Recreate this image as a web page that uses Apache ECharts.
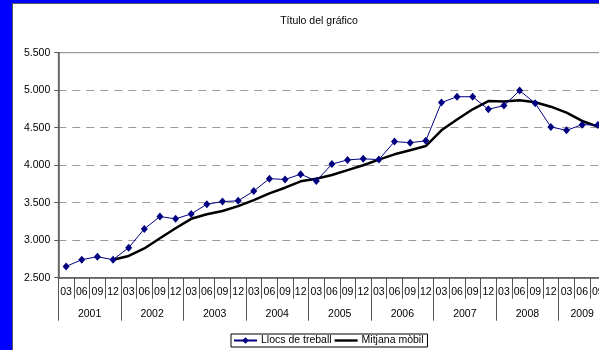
<!DOCTYPE html>
<html>
<head>
<meta charset="utf-8">
<script src="https://cdn.jsdelivr.net/npm/echarts@6/dist/echarts.min.js"></script>
<style>
html,body{margin:0;padding:0;width:599px;height:350px;overflow:hidden;background:#0000ff;}
#frame{position:absolute;left:12px;top:3px;width:700px;height:400px;background:#fff;border-left:1px solid #555;border-top:1px solid #555;}
#chart{position:absolute;left:0;top:0;width:640px;height:350px;}
</style>
</head>
<body>
<div id="frame"></div>
<div id="chart"></div>
<script>
const years = ['2001','2002','2003','2004','2005','2006','2007','2008','2009'];
const quarters = ['03','06','09','12'];
const quartersLastYear = 3; // 2009 only has 03, 06, 09
const llocsTreball = [2650,2740,2780,2740, 2900,3150,3315,3285, 3350,3480,3515,3525, 3655,3820,3810,3880,
  3790,4015,4070,4085, 4075,4315,4300,4325, 4835,4913,4913,4745, 4795,4995,4825,4510, 4465,4540,4535];
const mitjanaMobil = [null,null,null,2740, 2790,2890,3025,3160, 3285,3345,3390,3455, 3535,3625,3700,3785,
  3820,3870,3935,4000, 4075,4145,4200,4255, 4465,4610,4745,4855, 4850,4865,4840,4780, 4700,4590,4515];
const yTicks = {min:2500, max:5500, interval:500};

// quarter categories
const cats = [];
years.forEach((y, i) => {
  const n = (i === years.length - 1) ? quartersLastYear : quarters.length;
  for (let q = 0; q < n; q++) cats.push(quarters[q]);
});
// year axis: half-quarter positions (boundaryGap false)
const nQ = cats.length;
const yearPos = [];
for (let k = 0; k <= nQ * 2; k++) yearPos.push('');
const yearLabelIdx = {};
const yearTickIdx = {};
let start = 0;
years.forEach((y, i) => {
  const n = (i === years.length - 1) ? quartersLastYear : quarters.length;
  yearTickIdx[start * 2] = true;
  const mid = start * 2 + n; // center in half units
  yearPos[mid] = y;
  yearLabelIdx[mid] = true;
  start += n;
});
yearTickIdx[nQ * 2] = true;

const fontFam = '"Liberation Sans", Arial, sans-serif';
const chart = echarts.init(document.getElementById('chart'));
chart.setOption({
  animation: false,
  textStyle: {fontFamily: fontFam},
  title: {
    text: 'Título del gráfico',
    left: 314, top: 11, textAlign: 'center',
    textStyle: {fontSize: 10.5, fontWeight: 'normal', color: '#000', fontFamily: fontFam}
  },
  legend: {
    left: 231, top: 334,
    padding: [1, 4, 1, 2],
    itemGap: 3,
    itemWidth: 23, itemHeight: 8,
    borderColor: '#000', borderWidth: 1,
    backgroundColor: '#fff',
    textStyle: {fontSize: 10.5, color: '#000', fontFamily: fontFam, padding: [0,0,0,-1]},
    data: [
      {name: 'Llocs de treball'},
      {name: 'Mitjana mòbil', icon: 'path://M0,0L0,0M0,8L0,8M23,0L23,0M23,8L23,8M0,2.8L23,2.8L23,5.2L0,5.2Z'}
    ]
  },
  grid: {
    left: 58.3, top: 52.7, right: 34.4, bottom: 72.3,
    show: true, borderColor: '#808080', borderWidth: 1, backgroundColor: 'transparent'
  },
  xAxis: [{
    type: 'category', position: 'bottom', data: cats, boundaryGap: true,
    axisLine: {show: true, lineStyle: {color: '#555', width: 1.5}},
    axisTick: {show: true, interval: 0, length: 21, lineStyle: {color: '#555', width: 1}},
    axisLabel: {interval: 0, margin: 9, fontSize: 10.5, color: '#000', fontFamily: fontFam},
    splitLine: {show: false}
  }, {
    type: 'category', position: 'bottom', data: yearPos, boundaryGap: false,
    axisLine: {show: false},
    axisTick: {show: true, length: 43, interval: (idx) => !!yearTickIdx[idx], lineStyle: {color: '#555', width: 1}},
    axisLabel: {interval: (idx) => !!yearLabelIdx[idx], margin: 31, fontSize: 10.5, color: '#000', fontFamily: fontFam},
    splitLine: {show: false}
  }],
  yAxis: {
    type: 'value', min: yTicks.min, max: yTicks.max, interval: yTicks.interval,
    axisLine: {show: true, lineStyle: {color: '#555', width: 1.5}},
    axisTick: {show: true, length: 4, inside: false, lineStyle: {color: '#555'}},
    axisLabel: {
      margin: 8, fontSize: 10.5, color: '#000', fontFamily: fontFam,
      formatter: v => v.toString().replace(/\B(?=(\d{3})+(?!\d))/g, '.')
    },
    splitLine: {show: true, lineStyle: {color: '#9a9a9a', type: [8, 6], width: 1}}
  },
  series: [{
    name: 'Llocs de treball', type: 'line', data: llocsTreball, xAxisIndex: 0,
    symbol: 'diamond', symbolSize: [7, 8], showSymbol: true,
    lineStyle: {color: '#000080', width: 1},
    itemStyle: {color: '#000080'},
    z: 3
  }, {
    name: 'Mitjana mòbil', type: 'line', data: mitjanaMobil, xAxisIndex: 0,
    symbol: 'none', showSymbol: false, connectNulls: false,
    lineStyle: {color: '#000', width: 2.5},
    itemStyle: {color: '#000'},
    z: 2
  }]
});
</script>
</body>
</html>
